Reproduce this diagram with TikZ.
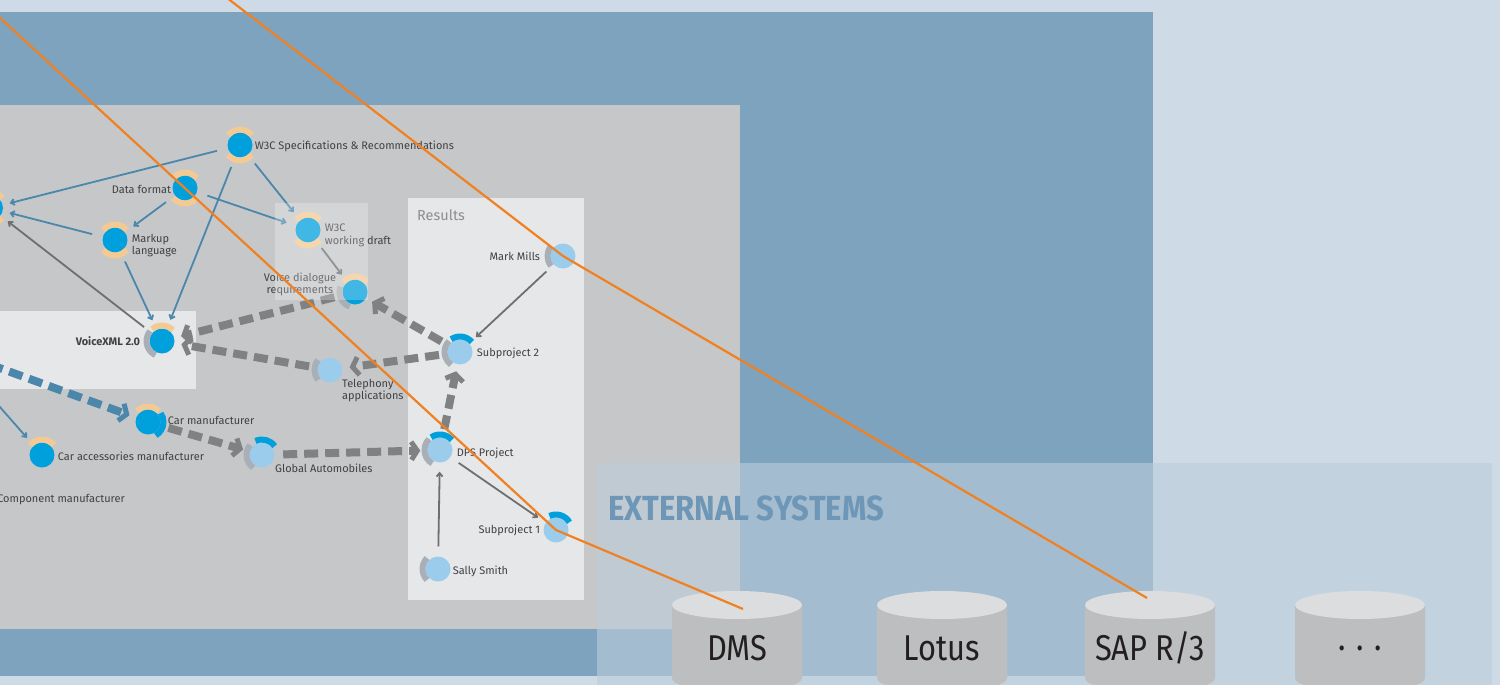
\documentclass[tikz,border=0pt]{standalone}
\usepackage{fontspec}
\setmainfont{Fira Sans}
\newfontfamily\narrowfont[FakeStretch=0.86]{Fira Sans}
\newfontfamily\titlefont[FakeStretch=0.89]{Fira Sans}
\usepackage{tikz}
\usetikzlibrary{positioning,arrows.meta}

\definecolor{paleblue}{HTML}{CEDAE5}
\definecolor{steelpanel}{HTML}{7EA3BE}
\definecolor{greypanel}{HTML}{C6C7C9}
\definecolor{lightbox}{HTML}{E6E7E9}
\definecolor{hubcyan}{HTML}{00A0DC}
\definecolor{leafblue}{HTML}{9CCCEC}
\definecolor{peach}{HTML}{F3C994}
\definecolor{ringgrey}{HTML}{A9AFB6}
\definecolor{linkblue}{HTML}{4A87AB}
\definecolor{linkgrey}{HTML}{6E6F71}
\definecolor{flowgrey}{HTML}{808183}
\definecolor{linkorange}{HTML}{F08122}
\definecolor{extpanel}{HTML}{BCCDDB}
\definecolor{exttitle}{HTML}{6E97B7}
\definecolor{cyltop}{HTML}{DCDDDF}
\definecolor{cylbody}{HTML}{BDBEC0}
\definecolor{cyltext}{HTML}{231F20}
\definecolor{labelgrey}{HTML}{414143}
\definecolor{resultsgrey}{HTML}{8C8D90}

\tikzset{
  hub/.style={circle,fill=hubcyan,minimum size=25bp,inner sep=0pt},
  leaf/.style={circle,fill=leafblue,minimum size=25bp,inner sep=0pt},
  lbl/.style={text=labelgrey,font=\fontsize{11}{12}\selectfont,inner sep=1bp,align=left},
  uses/.style={linkblue,line width=1.8bp,->,shorten <=11bp,shorten >=10bp},
  owns/.style={linkgrey,line width=1.8bp,->,shorten <=10bp,shorten >=9bp},
  flow/.style={flowgrey,line width=8bp,dash pattern=on 14bp off 7bp,
    -{Straight Barb[length=6bp,width=18bp,line width=5bp]},shorten <=8.5bp,shorten >=7bp},
  feed/.style={linkorange,line width=2.2bp},
  dbtext/.style={text=cyltext,font=\narrowfont\fontsize{36}{40}\selectfont,inner sep=0pt}
}

% coloured arc round a node, angles counted as seen on the page
\newcommand\ringarc[4]{\draw[#4,line width=6bp] (#1.center) ++(-#2:15.5) arc[start angle=-#2,end angle=-#3,radius=15.5];}
% database drum with its name
\newcommand\dbcyl[3]{%
  \fill[cylbody] (#1-65,605) -- (#1-65,678) arc[start angle=180,end angle=0,x radius=65,y radius=14] -- (#1+65,605) -- cycle;
  \fill[cyltop] (#1,605) ellipse[x radius=65,y radius=14];
  \node (#2) at (#1,648) [dbtext] {#3};}

\begin{document}
\begin{tikzpicture}[>={Straight Barb[length=3.5bp,width=6bp]},line join=bevel,x=1bp,y=-1bp]
\useasboundingbox (0,0) rectangle (1500,685);
\clip (0,0) rectangle (1500,685);
%% panels
\fill[paleblue] (0,0) rectangle (1500,685);
\fill[steelpanel] (0,12) rectangle (1153,676);
\fill[greypanel] (0,105) rectangle (740,629);
\fill[lightbox] (0,311) rectangle (196,389);
\fill[lightbox] (408,198) rectangle (584,600);
\node (results_lbl) at (417,215) [anchor=west,text=resultsgrey,font=\fontsize{14.5}{16}\selectfont,inner sep=0pt] {Results};
%% topics
\node (left_topic) at (-9.5,208) [hub] {};
\node (w3c) at (240,145) [hub] {};
\node (data_format) at (185,188) [hub] {};
\node (markup) at (115,240) [hub] {};
\node (draft) at (308,230) [hub] {};
\node (dialogue) at (355,292) [hub] {};
\node (voicexml) at (162,341) [hub] {};
\node (car) at (148,422) [hub] {};
\node (car_acc) at (42,455) [hub] {};
\node (telephony) at (330,370) [leaf] {};
\node (sub2) at (460,352) [leaf] {};
\node (mark) at (563,256) [leaf] {};
\node (dps) at (440,450) [leaf] {};
\node (sub1) at (556,530) [leaf] {};
\node (sally) at (438,569) [leaf] {};
\node (global) at (262,455) [leaf] {};
\coordinate (industry) at (-50,350);
%
\ringarc{left_topic}{40}{140}{peach} \ringarc{left_topic}{220}{320}{peach}
\ringarc{w3c}{40}{140}{peach} \ringarc{w3c}{220}{320}{peach}
\ringarc{data_format}{40}{140}{peach} \ringarc{data_format}{220}{320}{peach}
\ringarc{markup}{40}{140}{peach} \ringarc{markup}{220}{320}{peach}
\ringarc{draft}{40}{140}{peach} \ringarc{draft}{220}{320}{peach}
\ringarc{dialogue}{40}{140}{peach} \ringarc{dialogue}{160}{250}{ringgrey}
\ringarc{voicexml}{45}{130}{peach} \ringarc{voicexml}{140}{245}{ringgrey}
\ringarc{car}{45}{135}{peach} \ringarc{car}{300}{395}{hubcyan}
\ringarc{car_acc}{40}{140}{peach}
\ringarc{telephony}{140}{220}{ringgrey}
\ringarc{sub2}{40}{125}{hubcyan} \ringarc{sub2}{135}{235}{ringgrey}
\ringarc{mark}{140}{220}{ringgrey}
\ringarc{dps}{40}{125}{hubcyan} \ringarc{dps}{135}{240}{ringgrey}
\ringarc{sub1}{30}{115}{hubcyan}
\ringarc{sally}{135}{225}{ringgrey}
\ringarc{global}{35}{115}{hubcyan} \ringarc{global}{140}{235}{ringgrey}
%% labels
\node (w3c_lbl) [lbl,right=1bp of w3c,yshift=-1bp] {W3C Specifications \& Recommendations};
\node (data_format_lbl) [lbl,left=0bp of data_format,yshift=-1bp] {Data format};
\node (markup_lbl) [lbl,right=3bp of markup,yshift=-6bp] {Markup\\language};
\node (draft_lbl) [lbl,right=3bp of draft,yshift=-5bp,font=\fontsize{11}{13}\selectfont] {W3C\\working draft};
\node (dialogue_lbl) at (300,284) [lbl,align=center] {Voice dialogue\\requirements};
\node (voicexml_lbl) [lbl,left=8bp of voicexml,font=\fontsize{11}{12}\selectfont\bfseries] {VoiceXML 2.0};
\node (telephony_lbl) at (341,378) [lbl,anchor=north west] {Telephony\\applications};
\node (sub2_lbl) [lbl,right=3bp of sub2,yshift=-1bp] {Subproject 2};
\node (mark_lbl) [lbl,left=9bp of mark] {Mark Mills};
\node (dps_lbl) [lbl,right=3bp of dps,yshift=-3bp] {DPS Project};
\node (sub1_lbl) [lbl,left=2bp of sub1] {Subproject 1};
\node (sally_lbl) [lbl,right=1bp of sally,yshift=-2bp] {Sally Smith};
\node (car_lbl) [lbl,right=6bp of car,yshift=2bp] {Car manufacturer};
\node (car_acc_lbl) [lbl,right=2bp of car_acc,yshift=-1bp] {Car accessories manufacturer};
\node (global_lbl) at (274,463) [lbl,anchor=north west] {Global Automobiles};
\node (component_lbl) at (126,500) [lbl,anchor=east] {Component manufacturer};
%% links
\draw [uses,shorten >=7bp] (w3c) -- (left_topic);
\draw [uses] (w3c) -- (voicexml);
\draw [uses] (w3c) -- (draft);
\draw [uses] (data_format) -- (markup);
\draw [uses] (data_format) -- (draft);
\draw [uses,shorten >=7bp] (markup) -- (left_topic);
\draw [uses] (markup) -- (voicexml);
\draw [uses,shorten <=0bp] (industry) -- (car_acc);
\draw [owns] (voicexml) -- (left_topic);
\draw [owns] (draft) -- (dialogue);
\draw [owns] (mark) -- (sub2);
\draw [owns] (dps) -- (sub1);
\draw [owns] (sally) -- (dps);
\draw [flow] (dialogue) -- (voicexml);
\draw [flow] (telephony) -- (voicexml);
\draw [flow] (sub2) -- (telephony);
\draw [flow] (sub2) -- (dialogue);
\draw [flow] (dps) -- (sub2);
\draw [flow] (car) -- (global);
\draw [flow] (global) -- (dps);
\draw [flow,linkblue,shorten <=0bp] (industry) -- (car);
\fill[white,opacity=0.25] (275,203) rectangle (368,300);
%% external systems
\fill[extpanel,opacity=0.6] (597,463) rectangle (1492,690);
\node (ext_title) at (608,508) [anchor=west,text=exttitle,font=\titlefont\bfseries\fontsize{35}{40}\selectfont,inner sep=0pt] {EXTERNAL SYSTEMS};
\dbcyl{737}{dms}{DMS}
\dbcyl{942}{lotus}{Lotus}
\dbcyl{1150}{sap}{SAP R/3}
\dbcyl{1360}{more}{.\hspace{0.3em}.\hspace{0.3em}.}
\coordinate (feed_a) at (-40,-19);
\coordinate (feed_b) at (205,-19);
\coordinate (dms_port) at (743,609);
\coordinate (sap_port) at (1147,598);
\draw [feed] (feed_a) -- (sub1.center) -- (dms_port);
\draw [feed] (feed_b) -- (mark.center) -- (sap_port);
%
\end{tikzpicture}
\end{document}
